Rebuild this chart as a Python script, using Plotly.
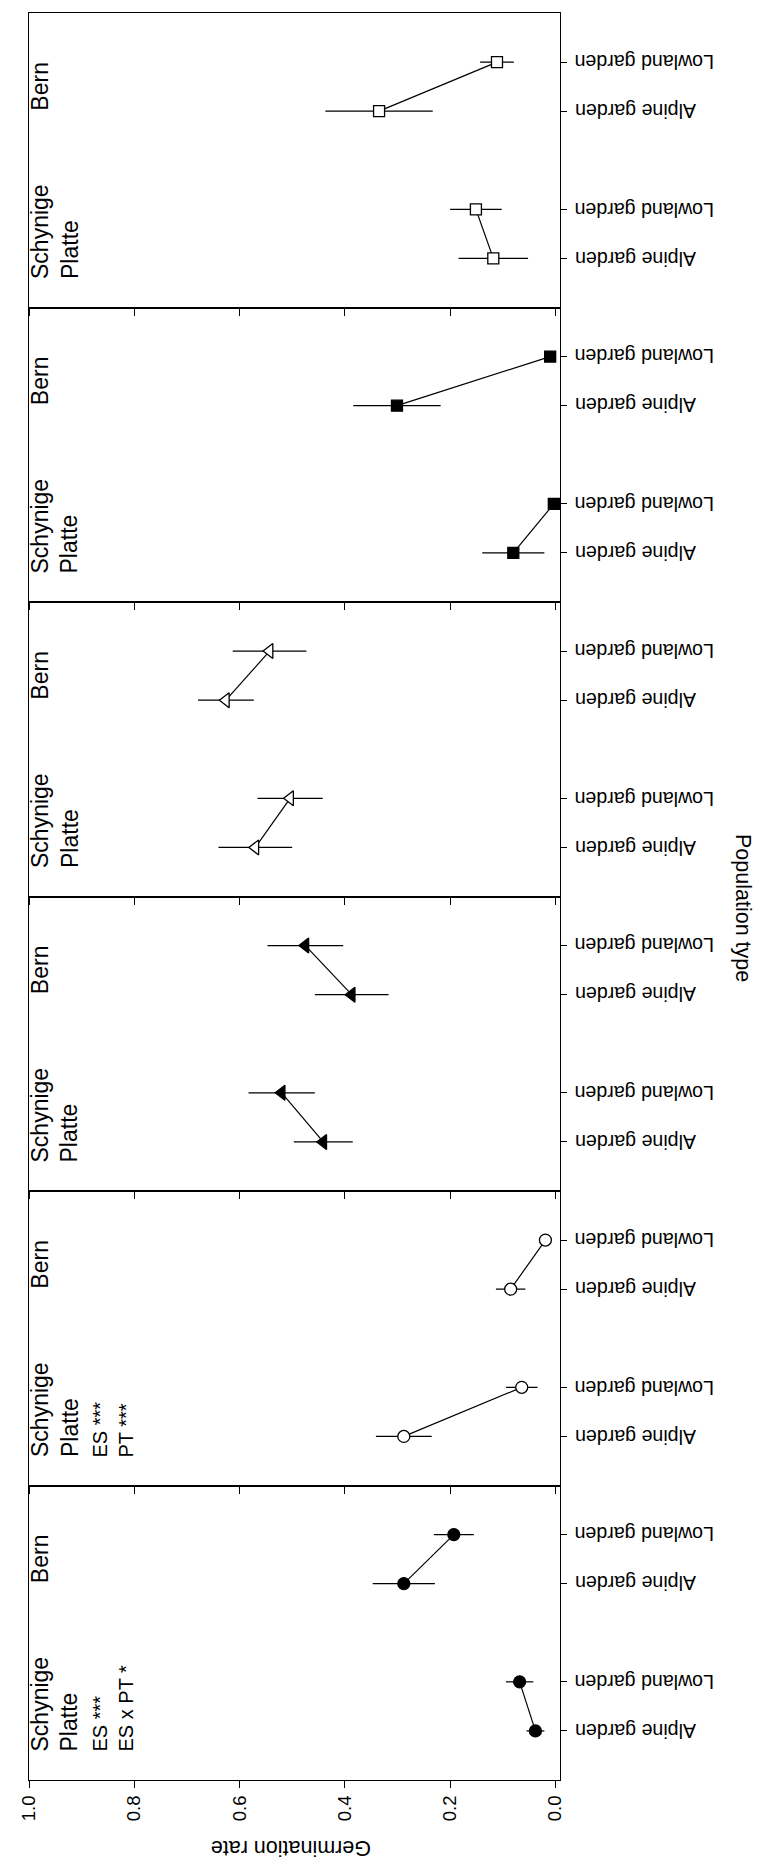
import plotly.graph_objects as go
from plotly.subplots import make_subplots

# ---------------- data (panels listed bottom -> top) ----------------
populations = ["Schynige<br>Platte", "Bern"]
gardens = ["Alpine garden", "Lowland garden"]

sp_mean = [
    [0.038, 0.068],
    [0.288, 0.064],
    [0.441, 0.520],
    [0.570, 0.504],
    [0.080, 0.003],
    [0.118, 0.151],
]
sp_err = [
    [0.017, 0.026],
    [0.053, 0.030],
    [0.056, 0.063],
    [0.070, 0.062],
    [0.059, 0.000],
    [0.066, 0.049],
]
bern_mean = [
    [0.288, 0.193],
    [0.085, 0.019],
    [0.387, 0.475],
    [0.626, 0.543],
    [0.301, 0.010],
    [0.335, 0.111],
]
bern_err = [
    [0.059, 0.038],
    [0.028, 0.005],
    [0.070, 0.072],
    [0.053, 0.070],
    [0.083, 0.000],
    [0.102, 0.032],
]
stats_text = ["ES ***<br>ES x PT *", "ES ***<br>PT ***", "", "", "", ""]
x_ticks = [0.0, 0.2, 0.4, 0.6, 0.8, 1.0]
x_ticktext = ["0.0", "0.2", "0.4", "0.6", "0.8", "1.0"]

# ---------------- styling ----------------
symbols = ["circle", "circle", "triangle-left", "triangle-left", "square", "square"]
fills = ["black", "white", "black", "white", "black", "white"]
sizes = [12, 12, 13, 13, 11, 11]
FONT = "Liberation Sans, Arial, sans-serif"

sp_pos = [1, 2]
bern_pos = [4, 5]

W, H = 766, 1865
L, R, T, B = 21, 552, 5, 1772
pw, ph = R - L, B - T


def px_x(p):
    return (p - L) / pw


def px_y(p):
    return (B - p) / ph


fig = make_subplots(rows=6, cols=1, vertical_spacing=0)

annotations = []
for k in range(6):
    row = 6 - k
    ysuf = "" if row == 1 else str(row)
    for means, errs, pos in ((sp_mean[k], sp_err[k], sp_pos), (bern_mean[k], bern_err[k], bern_pos)):
        fig.add_trace(
            go.Scatter(
                x=means,
                y=pos,
                mode="lines+markers",
                line=dict(color="black", width=1.2),
                marker=dict(symbol=symbols[k], size=sizes[k], color=fills[k],
                            line=dict(color="black", width=1.3)),
                error_x=dict(type="data", array=errs, visible=True, color="black",
                             thickness=1.2, width=0),
                cliponaxis=False,
                showlegend=False,
                hoverinfo="skip",
            ),
            row=row, col=1,
        )
    fig.update_xaxes(
        range=[1.0, -0.0087], tickvals=x_ticks, ticktext=x_ticktext,
        ticks="outside", ticklen=7, tickwidth=1.2, tickcolor="black",
        showline=True, linecolor="black", linewidth=1.3, mirror=True,
        showgrid=False, zeroline=False, tickangle=-90,
        showticklabels=(k == 0),
        tickfont=dict(family=FONT, size=18.5, color="black"),
        row=row, col=1,
    )
    fig.update_yaxes(
        range=[0, 6], tickvals=sp_pos + bern_pos, side="right",
        ticks="outside", ticklen=6, tickwidth=1.2, tickcolor="black",
        showline=True, linecolor="black", linewidth=1.3, mirror=True,
        showgrid=False, zeroline=False, showticklabels=False,
        row=row, col=1,
    )
    yref = "y" + ysuf
    # category labels (upside-down)
    for pos_list in (sp_pos, bern_pos):
        for g, pos in zip(gardens, pos_list):
            annotations.append(dict(
                x=px_x(565), xref="paper", y=pos, yref=yref,
                text=g, textangle=180, showarrow=False,
                xanchor="left", yanchor="middle",
                font=dict(family=FONT, size=19.6, color="black"),
            ))
    # population labels
    for name, ypos in ((populations[0], 0.53), (populations[1], 3.96)):
        annotations.append(dict(
            x=px_x(17), xref="paper", y=ypos, yref=yref,
            text=name, textangle=-90, showarrow=False, align="left",
            xanchor="left", yanchor="bottom",
            font=dict(family=FONT, size=23, color="black"),
        ))
    if stats_text[k]:
        annotations.append(dict(
            x=px_x(79), xref="paper", y=0.53, yref=yref,
            text=stats_text[k], textangle=-90, showarrow=False, align="left",
            xanchor="left", yanchor="bottom",
            font=dict(family=FONT, size=20, color="black"),
        ))

annotations.append(dict(
    x=px_x(283), y=px_y(1840), xref="paper", yref="paper",
    text="Germination rate", textangle=180, showarrow=False,
    xanchor="center", yanchor="middle",
    font=dict(family=FONT, size=21.5, color="black"),
))
annotations.append(dict(
    x=px_x(735), y=px_y(900), xref="paper", yref="paper",
    text="Population type", textangle=90, showarrow=False,
    xanchor="center", yanchor="middle",
    font=dict(family=FONT, size=21.5, color="black"),
))

fig.update_layout(
    width=W, height=H,
    margin=dict(l=L, r=W - R, t=T, b=H - B, pad=0),
    paper_bgcolor="white", plot_bgcolor="white",
    annotations=annotations,
    font=dict(family=FONT, color="black"),
)

fig.write_html("out.html")
